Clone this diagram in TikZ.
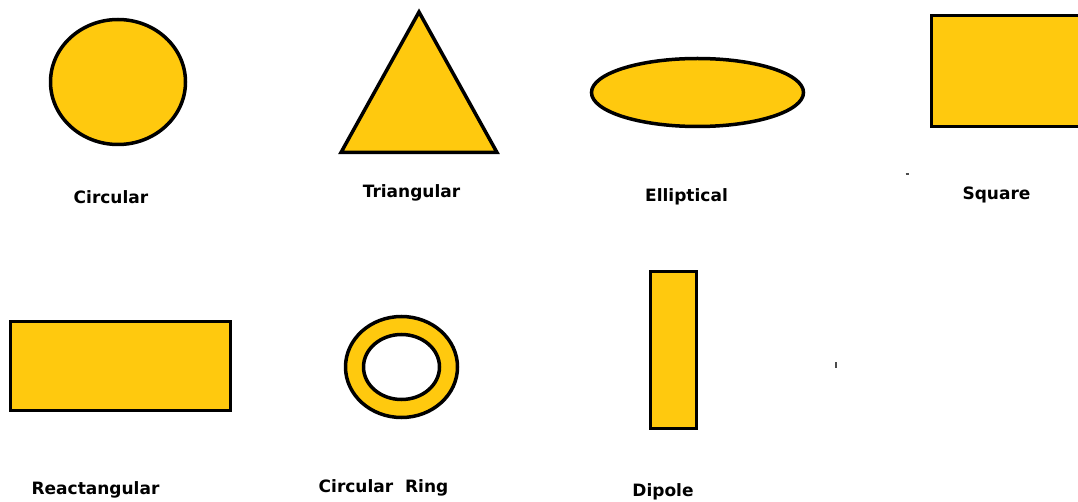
\documentclass[tikz,border=0pt]{standalone}
\usepackage{fontspec}
\setmainfont{DejaVu Sans}
\usetikzlibrary{shapes.geometric}
\definecolor{patchgold}{HTML}{FFC90E}
\tikzset{
  patch/.style={draw=black, line width=3.5pt, fill=patchgold},
  patchell/.style={patch, ellipse, inner sep=0pt},
  patchbox/.style={patch, rectangle, inner sep=0pt},
  patchlabel/.style={font=\fontsize{17}{19}\selectfont\bfseries, inner sep=0pt}
}
\begin{document}
\begin{tikzpicture}[x=1pt,y=-1pt]
  \useasboundingbox (0,0) rectangle (1078,502);
  \clip (0,0) rectangle (1078,502);

  % top row
  \node[patchell, minimum width=135pt, minimum height=125pt] (circ) at (118,82) {};
  \draw[patch, line join=miter] (419,12) -- (497,152.5) -- (341,152.5) -- cycle;
  \coordinate (tri) at (419,82);
  \node[patchell, minimum width=212pt, minimum height=68pt] (ell) at (697.5,92.5) {};
  \node[patchbox, minimum width=160pt, minimum height=111pt] (sq) at (1011.5,71) {};

  \node[patchlabel] (lcirc) at (111,197) {Circular};
  \node[patchlabel] (ltri) at (411.5,193) {Triangular};
  \node[patchlabel] (lell) at (686.5,197) {Elliptical};
  \node[patchlabel] (lsq) at (996.5,195) {Square};

  % bottom row
  \node[patchbox, minimum width=220pt, minimum height=89pt] (rect) at (120.5,366) {};
  \draw[patch, even odd rule] (401.5,367) ellipse [x radius=56, y radius=50.5]
                              (401.5,367) ellipse [x radius=38, y radius=32.5];
  \coordinate (ring) at (401.5,367);
  \node[patchbox, minimum width=46pt, minimum height=157pt] (dip) at (673.5,350) {};

  \node[patchlabel] (lrect) at (95.5,490) {Reactangular};
  \node[patchlabel] (lring) at (383.5,488) {Circular\ \ Ring};
  \node[patchlabel] (ldip) at (663,492) {Dipole};

  % stray marks
  \draw[black!70, line width=1.5pt] (905.5,174) -- (908.5,174);
  \draw[black!70, line width=1.5pt] (836,362) -- (836,368);
\end{tikzpicture}
\end{document}
